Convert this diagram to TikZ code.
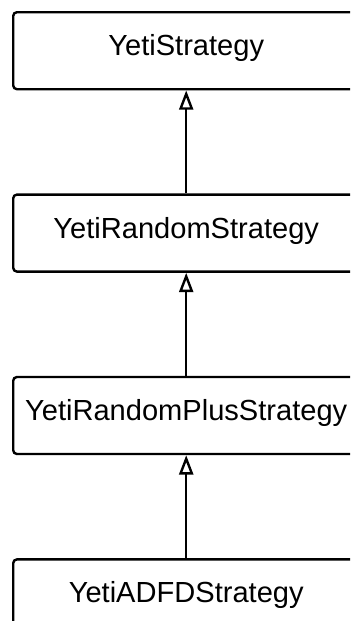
\documentclass[tikz,border=0pt]{standalone}
\usepackage{fontspec}
\setmainfont{Liberation Sans}
\usetikzlibrary{positioning, arrows.meta}

\begin{document}
\begin{tikzpicture}[
    cls/.style={draw=black, line width=1.8pt, rounded corners=2.8pt,
      minimum width=259.5pt, minimum height=57.75pt, inner sep=0pt,
      text height=16pt, text depth=8.6pt,
      font=\fontsize{21.8pt}{26pt}\selectfont},
    inh/.style={-{Triangle[open, length=14.5pt, width=10.5pt]}, black, line width=1.8pt}]
    \path[use as bounding box, clip] (0,0) rectangle (262.5pt,-465.75pt);
    \node[cls, anchor=north west] (s) at (9pt,-8.25pt) {YetiStrategy};
    \node[cls, below=77.25pt of s] (r) {YetiRandomStrategy};
    \node[cls, below=77.25pt of r] (p) {YetiRandomPlusStrategy};
    \node[cls, below=77.25pt of p] (f) {YetiADFDStrategy};
    \foreach \x/\y in {r/s,p/r,f/p} \draw[inh] (\x)--(\y);
\end{tikzpicture}
\end{document}
